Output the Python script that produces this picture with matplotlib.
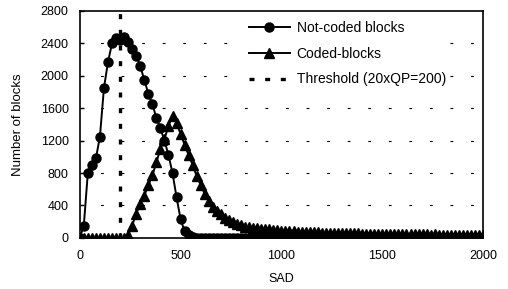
import numpy as np
import matplotlib
matplotlib.use("Agg")
import matplotlib.pyplot as plt

plt.rcParams['font.family'] = ['Liberation Sans', 'DejaVu Sans']

# SAD bins (step 20)
sad = list(range(0, 2001, 20))

# Not-coded blocks
not_coded = [
    0, 150, 800, 900, 980, 1250, 1850, 2170, 2400, 2470,
    2440, 2480, 2420, 2330, 2250, 2120, 1950, 1780, 1650, 1480,
    1350, 1200, 1020, 800, 500, 230, 80, 30, 10, 0,
    0, 0, 0, 0, 0, 0, 0, 0, 0, 0,
    0, 0, 0, 0, 0, 0, 0, 0, 0, 0,
    0, 0, 0, 0, 0, 0, 0, 0, 0, 0,
    0, 0, 0, 0, 0, 0, 0, 0, 0, 0,
    0, 0, 0, 0, 0, 0, 0, 0, 0, 0,
    0, 0, 0, 0, 0, 0, 0, 0, 0, 0,
    0, 0, 0, 0, 0, 0, 0, 0, 0, 0,
    0,
]

# Coded blocks
coded = [
    0, 0, 0, 0, 0, 0, 0, 0, 0, 0,
    0, 0, 40, 150, 300, 420, 520, 650, 770, 930,
    1100, 1220, 1380, 1510, 1420, 1280, 1150, 1020, 900, 760,
    650, 540, 450, 380, 330, 290, 250, 220, 190, 170,
    155, 140, 130, 125, 120, 115, 110, 105, 100, 95,
    90, 88, 84, 80, 78, 76, 72, 70, 68, 66,
    64, 62, 63, 60, 58, 57, 56, 55, 54, 55,
    52, 50, 51, 50, 48, 49, 47, 46, 47, 45,
    44, 45, 44, 43, 42, 43, 42, 41, 42, 40,
    41, 40, 39, 40, 38, 39, 38, 37, 38, 36,
    36,
]

threshold = 200

fig = plt.figure(figsize=(5.08, 2.89), dpi=100)
ax = fig.add_axes([0.157, 0.177, 0.794, 0.785])

# dashed horizontal grid
for yv in range(400, 2800, 400):
    ax.axhline(yv, color='black', lw=0.8, linestyle=(0, (2.5, 16)), zorder=1)

ax.plot(sad, not_coded, color='black', lw=1.4, marker='o', markersize=6.5,
        label='Not-coded blocks', zorder=3)
ax.plot(sad, coded, color='black', lw=1.4, marker='^', markersize=6.5,
        label='Coded-blocks', zorder=3)
ax.axvline(threshold, color='black', lw=2.4, linestyle=(0, (1.5, 3.2)),
           label='Threshold (20xQP=200)', zorder=2)

ax.set_xlim(0, 2000)
ax.set_ylim(0, 2800)
ax.set_xticks([0, 500, 1000, 1500, 2000])
ax.set_yticks(range(0, 2801, 400))
ax.tick_params(axis='both', labelsize=9, direction='in', length=3, width=1)
ax.tick_params(axis='y', pad=8)
ax.tick_params(axis='x', length=0, pad=9)
for s in ax.spines.values():
    s.set_linewidth(1.2)

ax.set_xlabel('SAD', fontsize=9, labelpad=8)
ax.set_ylabel('Number of blocks', fontsize=9.5, labelpad=12)

leg = ax.legend(loc='upper left', bbox_to_anchor=(0.41, 0.975), fontsize=10,
                frameon=True, framealpha=1, edgecolor='none', handlelength=2.9,
                borderaxespad=0, borderpad=0.3, labelspacing=0.85,
                handletextpad=0.5)
leg.get_frame().set_facecolor('white')

fig.savefig('out.png', dpi=100)
